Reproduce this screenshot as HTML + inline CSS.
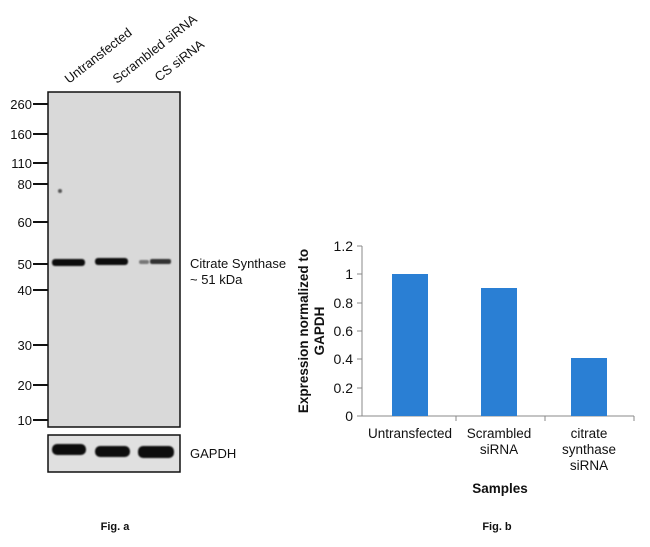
<!DOCTYPE html>
<html><head><style>body{margin:0;background:#fff}</style></head><body>
<svg width="650" height="542" xmlns="http://www.w3.org/2000/svg" font-family="Liberation Sans, sans-serif">
<defs>
<filter id="b" x="-20%" y="-100%" width="140%" height="300%"><feGaussianBlur stdDeviation="0.9"/></filter>
</defs>
<g font-size="13" fill="#111">
<text transform="translate(69,84) rotate(-38)">Untransfected</text>
<text transform="translate(117,84) rotate(-38)">Scrambled siRNA</text>
<text transform="translate(159,82) rotate(-38)">CS siRNA</text>
</g>
<rect x="48" y="92" width="132" height="335" fill="#d9d9d9" stroke="#111" stroke-width="1.5"/>
<g filter="url(#b)">
<rect x="52" y="259" width="33" height="7" rx="3" fill="#111"/>
<rect x="95" y="258" width="33" height="7" rx="3" fill="#111"/>
<rect x="139" y="260" width="10" height="4" rx="2" fill="#777"/>
<rect x="150" y="259" width="21" height="5" rx="2" fill="#333"/>
<circle cx="60" cy="191" r="2" fill="#555"/>
</g>
<rect x="48" y="435" width="132" height="37" fill="#e0e0e0" stroke="#111" stroke-width="1.5"/>
<g filter="url(#b)">
<rect x="52" y="444" width="34" height="11" rx="5" fill="#111"/>
<rect x="95" y="446" width="35" height="11" rx="5" fill="#111"/>
<rect x="138" y="446" width="36" height="12" rx="5" fill="#111"/>
</g>
<g font-size="13" fill="#111" text-anchor="end">
<text x="32" y="109">260</text><text x="32" y="139">160</text><text x="32" y="168">110</text><text x="32" y="189">80</text><text x="32" y="227">60</text><text x="32" y="269">50</text><text x="32" y="295">40</text><text x="32" y="350">30</text><text x="32" y="390">20</text><text x="32" y="425">10</text>
</g>
<g stroke="#111" stroke-width="2">
<line x1="33" y1="104" x2="48" y2="104"/><line x1="33" y1="134" x2="48" y2="134"/><line x1="33" y1="163" x2="48" y2="163"/><line x1="33" y1="184" x2="48" y2="184"/><line x1="33" y1="222" x2="48" y2="222"/><line x1="33" y1="264" x2="48" y2="264"/><line x1="33" y1="290" x2="48" y2="290"/><line x1="33" y1="345" x2="48" y2="345"/><line x1="33" y1="385" x2="48" y2="385"/><line x1="33" y1="420" x2="48" y2="420"/>
</g>
<g font-size="13" fill="#111">
<text x="190" y="268">Citrate Synthase</text>
<text x="190" y="284">~ 51 kDa</text>
<text x="190" y="458">GAPDH</text>
</g>
<g font-size="14" fill="#111" text-anchor="end">
<text x="353" y="251">1.2</text><text x="353" y="279">1</text><text x="353" y="308">0.8</text><text x="353" y="336">0.6</text><text x="353" y="364">0.4</text><text x="353" y="393">0.2</text><text x="353" y="421">0</text>
</g>
<g stroke="#888" stroke-width="1">
<line x1="362" y1="246" x2="362" y2="416"/><line x1="362" y1="416" x2="634" y2="416"/>
<line x1="357" y1="246" x2="362" y2="246"/><line x1="357" y1="274" x2="362" y2="274"/><line x1="357" y1="303" x2="362" y2="303"/><line x1="357" y1="331" x2="362" y2="331"/><line x1="357" y1="359" x2="362" y2="359"/><line x1="357" y1="388" x2="362" y2="388"/><line x1="357" y1="416" x2="362" y2="416"/>
<line x1="456" y1="416" x2="456" y2="421"/><line x1="545" y1="416" x2="545" y2="421"/><line x1="634" y1="416" x2="634" y2="421"/>
</g>
<rect x="392" y="274" width="36" height="142" fill="#2a7fd4"/>
<rect x="481" y="288" width="36" height="128" fill="#2a7fd4"/>
<rect x="571" y="358" width="36" height="58" fill="#2a7fd4"/>
<g font-size="13.5" fill="#111" text-anchor="middle">
<text x="410" y="438">Untransfected</text>
<text x="499" y="438">Scrambled</text><text x="499" y="454">siRNA</text>
<text x="589" y="438">citrate</text><text x="589" y="454">synthase</text><text x="589" y="470">siRNA</text>
<text x="500" y="493" font-weight="bold">Samples</text>
<text transform="translate(308,331) rotate(-90)" font-weight="bold">Expression normalized to</text>
<text transform="translate(324,331) rotate(-90)" font-weight="bold">GAPDH</text>
</g>
<g font-size="11" font-weight="bold" fill="#111" text-anchor="middle">
<text x="115" y="530">Fig. a</text>
<text x="497" y="530">Fig. b</text>
</g>
</svg>
</body></html>
